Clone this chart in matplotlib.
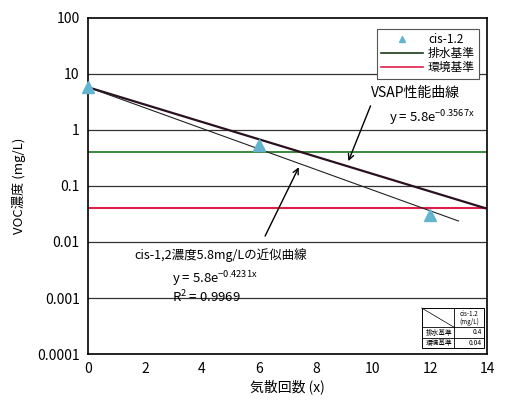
import numpy as np
import matplotlib
matplotlib.use("Agg")
import matplotlib.pyplot as plt
from matplotlib.patches import Rectangle
from matplotlib.lines import Line2D

plt.rcParams['font.family'] = ['Noto Sans CJK JP', 'DejaVu Sans']
plt.rcParams['mathtext.default'] = 'regular'

# Data
cis_x = [0, 6, 12]
cis_y = [5.8, 0.55, 0.03]
vsap_a, vsap_b = 5.8, 0.3567
fit_a, fit_b = 5.8, 0.4231
haisui = 0.4
kankyo = 0.04
x_ticks = [0, 2, 4, 6, 8, 10, 12, 14]
y_ticks = [0.0001, 0.001, 0.01, 0.1, 1, 10, 100]
y_tick_labels = ['0.0001', '0.001', '0.01', '0.1', '1', '10', '100']

fig = plt.figure(figsize=(5.13, 4.13), dpi=100)
ax = fig.add_axes([88/513, 1-354/413, (487-88)/513, (354-18)/413])

ax.set_yscale('log')
ax.set_xlim(0, 14)
ax.set_ylim(1e-4, 100)
for yt in y_ticks[1:-1]:
    ax.axhline(yt, color='#333333', lw=0.9, zorder=1)

xv = np.linspace(0, 14, 200)
ax.plot(xv, vsap_a*np.exp(-vsap_b*xv), color='#2a1020', lw=1.6, zorder=3)
xf = np.linspace(0, 13, 200)
ax.plot(xf, fit_a*np.exp(-fit_b*xf), color='#222222', lw=0.8, zorder=3)

ax.axhline(haisui, color='#2e7d2e', lw=1.3, zorder=2)
ax.axhline(kankyo, color='#e0204a', lw=1.5, zorder=2)
ax.plot(cis_x, cis_y, linestyle='none', marker='^', color='#62b4cf', ms=8, zorder=4, clip_on=False)

ax.set_xticks(x_ticks)
ax.set_xticklabels([str(v) for v in x_ticks])
ax.set_yticks(y_ticks)
ax.set_yticklabels(y_tick_labels)
ax.minorticks_off()
ax.tick_params(axis='both', length=0, labelsize=10, pad=6)
for s in ax.spines.values():
    s.set_linewidth(1.2)
    s.set_color('black')

ax.set_xlabel('気散回数 (x)', fontsize=10, labelpad=2)
ax.set_ylabel('VOC濃度 (mg/L)', fontsize=9.5, labelpad=8)

handles = [
    Line2D([], [], linestyle='none', marker='^', color='#62b4cf', ms=5),
    Line2D([], [], color='#1a3a1a', lw=1.2),
    Line2D([], [], color='#e0204a', lw=1.2),
]
leg = ax.legend(handles, ['cis-1.2', '排水基準', '環境基準'], loc='upper right',
                bbox_to_anchor=(0.995, 0.985), fontsize=8.5, fancybox=False,
                framealpha=1, edgecolor='#555555', handlelength=3.6,
                borderpad=0.35, labelspacing=0.1, handletextpad=0.4)
leg.get_frame().set_linewidth(0.8)

# Annotations
ax.text(11.5, 4.6, 'VSAP性能曲線', fontsize=10, ha='center', va='center')
ax.text(10.55, 1.64, r'y = 5.8e$^{-0.3567x}$', fontsize=9.5, ha='left', va='center')
ax.annotate('', xy=(9.1, 0.25), xytext=(9.95, 3.0),
            arrowprops=dict(arrowstyle='->', color='black', lw=1.0))
ax.text(4.65, 0.0058, 'cis-1,2濃度5.8mg/Lの近似曲線', fontsize=9, ha='center', va='center')
ax.text(2.96, 0.0022, r'y = 5.8e$^{-0.4231x}$', fontsize=9.5, ha='left', va='center')
ax.text(2.96, 0.00105, r'R$^2$ = 0.9969', fontsize=9.5, ha='left', va='center')
ax.annotate('', xy=(7.44, 0.24), xytext=(6.17, 0.0115),
            arrowprops=dict(arrowstyle='->', color='black', lw=1.0))

# Small table (bottom right)
tx0, tx1, tx2 = 0.836, 0.917, 0.993
ty0, ty1, ty2, ty3 = 0.137, 0.080, 0.048, 0.018
tr = ax.transAxes
ax.add_patch(Rectangle((tx0, ty3), tx2-tx0, ty0-ty3, transform=tr, fill=True,
                       facecolor='white', edgecolor='black', lw=0.7, zorder=5))
for yy in (ty1, ty2):
    ax.add_line(Line2D([tx0, tx2], [yy, yy], transform=tr, color='black', lw=0.6, zorder=6))
ax.add_line(Line2D([tx1, tx1], [ty3, ty0], transform=tr, color='black', lw=0.6, zorder=6))
ax.add_line(Line2D([tx0, tx1], [ty0, ty1], transform=tr, color='black', lw=0.5, zorder=6))
ax.text((tx1+tx2)/2, (ty0+ty1)/2, 'cis-1.2\n(mg/L)', transform=tr, fontsize=4.5,
        ha='center', va='center', zorder=7, linespacing=1.0)
ax.text(tx1-0.004, (ty1+ty2)/2, '排水基準', transform=tr, fontsize=4.8, ha='right', va='center', zorder=7)
ax.text(tx1-0.004, (ty2+ty3)/2, '環境基準', transform=tr, fontsize=4.8, ha='right', va='center', zorder=7)
ax.text(tx2-0.006, (ty1+ty2)/2, '0.4', transform=tr, fontsize=4.8, ha='right', va='center', zorder=7)
ax.text(tx2-0.006, (ty2+ty3)/2, '0.04', transform=tr, fontsize=4.8, ha='right', va='center', zorder=7)

fig.savefig('out.png', dpi=100)
